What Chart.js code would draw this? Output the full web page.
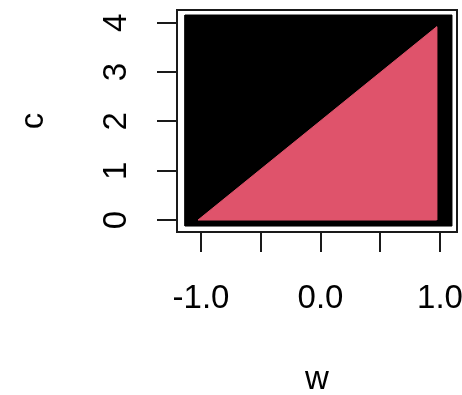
<!DOCTYPE html>
<html>
<head>
<meta charset="utf-8">
<script src="https://cdn.jsdelivr.net/npm/chart.js@4/dist/chart.umd.min.js"></script>
<style>
  html, body { margin: 0; padding: 0; background: #ffffff; }
  #wrap { width: 462px; height: 395px; }
</style>
</head>
<body>
<div id="wrap"><canvas id="plot"></canvas></div>
<script>
// Outline of the region covered by the black points (w, c corners)
const blackW = [-1.134, 1.100, 1.100, -1.134, -1.134];
const blackC = [-0.122, -0.122, 4.158, 4.158, -0.122];

// Outline of the region covered by the red points
const redW = [-1.025, 0.972, 0.972, -1.025];
const redC = [0.0, 3.92, 0.0, 0.0];

// Axis ticks and their labels
const xTickValues = [-1.0, -0.5, 0.0, 0.5, 1.0];
const xTickLabels = ['-1.0', '', '0.0', '', '1.0'];
const yTickValues = [0, 1, 2, 3, 4];
const yTickLabels = ['0', '1', '2', '3', '4'];

const toPoints = (ws, cs) => ws.map((w, i) => ({ x: w, y: cs[i] }));

const FONT = '"Liberation Sans", Arial, Helvetica, sans-serif';
const INK = '#1a1a1a';

// Frame around the plotting region, like R's box()
const boxPlugin = {
  id: 'plotBox',
  afterDraw(chart) {
    const { ctx, chartArea: a } = chart;
    ctx.save();
    ctx.strokeStyle = INK;
    ctx.lineWidth = 2;
    ctx.strokeRect(a.left, a.top, a.right - a.left, a.bottom - a.top);
    ctx.restore();
  }
};

// Fixed axis sizes; labels are allowed to overhang the plot edges
const fixSize = (prop, size) => (s) => {
  s[prop] = size;
  s.paddingLeft = 0; s.paddingRight = 0; s.paddingTop = 0; s.paddingBottom = 0;
};

new Chart(document.getElementById('plot'), {
  type: 'scatter',
  data: {
    datasets: [
      {
        label: 'red',
        order: 1,
        data: toPoints(redW, redC),
        showLine: true,
        fill: 'shape',
        backgroundColor: '#DF536B',
        borderColor: '#DF536B',
        borderWidth: 1,
        pointRadius: 0,
        tension: 0
      },
      {
        label: 'black',
        order: 2,
        data: toPoints(blackW, blackC),
        showLine: true,
        fill: 'shape',
        backgroundColor: '#000000',
        borderColor: '#000000',
        borderWidth: 1,
        pointRadius: 0,
        tension: 0
      }
    ]
  },
  options: {
    responsive: true,
    maintainAspectRatio: false,
    animation: false,
    events: [],
    layout: { padding: { top: 10, right: 5, left: 0, bottom: 0 } },
    plugins: { legend: { display: false }, tooltip: { enabled: false } },
    scales: {
      x: {
        type: 'linear',
        min: -1.201,
        max: 1.142,
        afterBuildTicks: (s) => { s.ticks = xTickValues.map(v => ({ value: v })); },
        afterFit: fixSize('height', 163),
        border: { display: false },
        grid: { drawOnChartArea: false, drawTicks: true, tickLength: 20, color: INK, lineWidth: 2 },
        ticks: {
          autoSkip: false,
          maxRotation: 0,
          padding: 27,
          color: '#000000',
          font: { family: FONT, size: 33 },
          callback: (v, i) => xTickLabels[i]
        },
        title: {
          display: true,
          text: 'w',
          color: '#000000',
          padding: { top: 0, bottom: 0 },
          font: { family: FONT, size: 33, lineHeight: 0.9 }
        }
      },
      y: {
        type: 'linear',
        min: -0.243,
        max: 4.26,
        afterBuildTicks: (s) => { s.ticks = yTickValues.map(v => ({ value: v })); },
        afterFit: fixSize('width', 177),
        border: { display: false },
        grid: { drawOnChartArea: false, drawTicks: true, tickLength: 20, color: INK, lineWidth: 2 },
        ticks: {
          autoSkip: false,
          minRotation: 90,
          maxRotation: 90,
          crossAlign: 'center',
          padding: 31,
          color: '#000000',
          font: { family: FONT, size: 33 },
          callback: (v, i) => yTickLabels[i]
        },
        title: {
          display: true,
          text: 'c',
          color: '#000000',
          padding: { top: 14, bottom: 0 },
          font: { family: FONT, size: 33 }
        }
      }
    }
  },
  plugins: [boxPlugin]
});
</script>
</body>
</html>
